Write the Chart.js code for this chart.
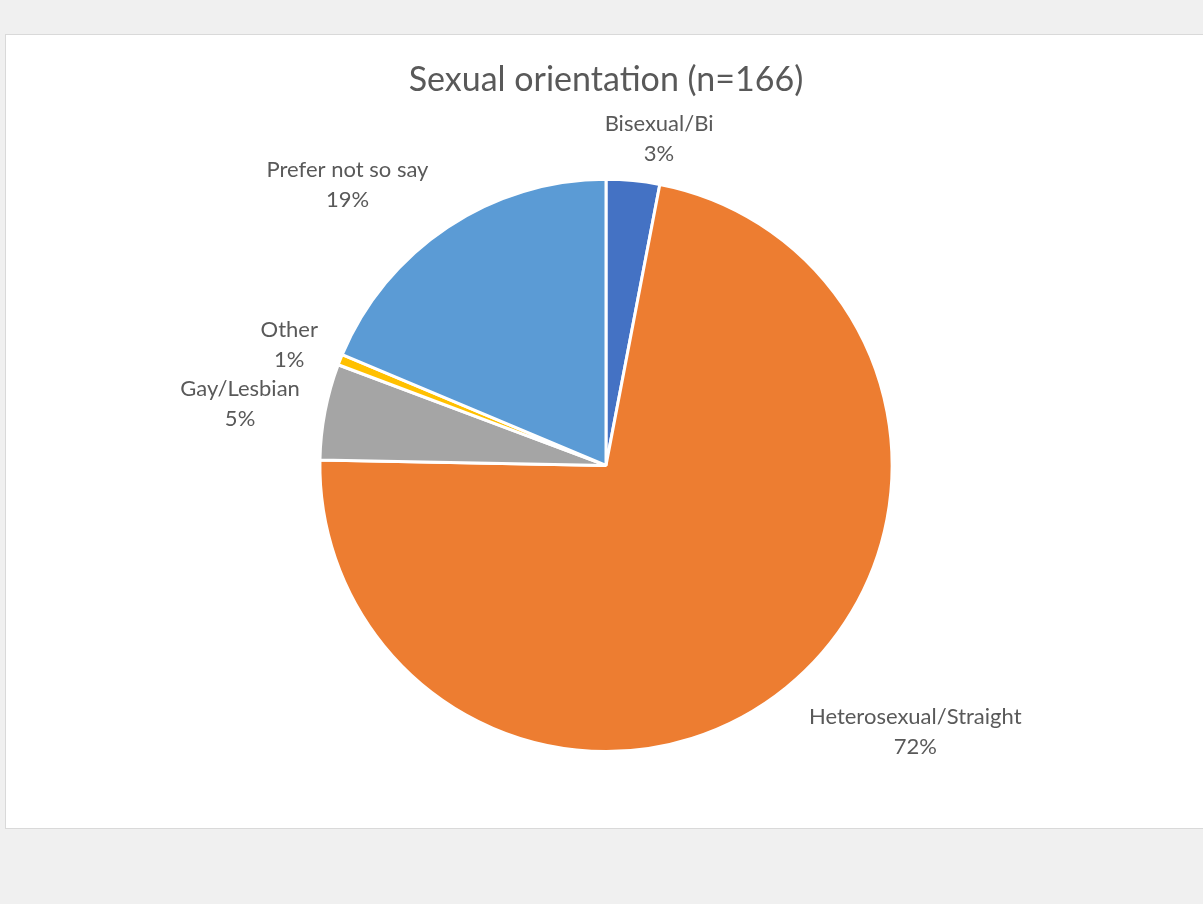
<!DOCTYPE html>
<html>
<head>
<meta charset="utf-8">
<script src="https://cdn.jsdelivr.net/npm/chart.js@4"></script>
<style>
  html, body { margin: 0; padding: 0; background: #f0f0f0; }
  body { width: 1203px; height: 904px; position: relative; overflow: hidden; }
  #frame { position: absolute; left: 5px; top: 34px; width: 1210px; height: 793px;
           background: #fff; border: 1px solid #d9d9d9; }
  #wrap { position: absolute; left: 0; top: 0; width: 1203px; height: 904px; }
</style>
</head>
<body>
<div id="frame"></div>
<div id="wrap"><canvas id="canvas"></canvas></div>
<script>
var categories = ['Bisexual/Bi', 'Heterosexual/Straight', 'Gay/Lesbian', 'Other', 'Prefer not so say'];
var counts = [5, 120, 9, 1, 31];
var sliceColors = ['#4472C4', '#ED7D31', '#A5A5A5', '#FFC000', '#5B9BD5'];

// where each label sits: multiple of the radius, and degrees off the slice middle
var labelSpots = [
  { r: 1.157, turn: 3.8 },
  { r: 1.427, turn: -10.2 },
  { r: 1.297, turn: -1.3 },
  { r: 1.185, turn: -0.8 },
  { r: 1.332, turn: -9.1 }
];

var total = counts.reduce(function (a, b) { return a + b; }, 0);

var sliceLabels = {
  id: 'sliceLabels',
  afterDatasetsDraw: function (chart) {
    var ctx = chart.ctx;
    var arcs = chart.getDatasetMeta(0).data;
    ctx.save();
    ctx.fillStyle = '#595959';
    ctx.font = '22px Lato';
    ctx.textAlign = 'center';
    ctx.textBaseline = 'middle';
    arcs.forEach(function (arc, i) {
      var p = arc.getProps(['x', 'y', 'startAngle', 'endAngle', 'outerRadius'], true);
      var spot = labelSpots[i];
      var a = (p.startAngle + p.endAngle) / 2 + spot.turn * Math.PI / 180;
      var x = p.x + Math.cos(a) * p.outerRadius * spot.r;
      var y = p.y + Math.sin(a) * p.outerRadius * spot.r;
      var pct = Math.round(counts[i] / total * 100) + '%';
      ctx.fillText(categories[i], x, y - 15);
      ctx.fillText(pct, x, y + 15);
    });
    ctx.restore();
  }
};

window.onload = function () {
  var ctx = document.getElementById('canvas').getContext('2d');
  new Chart(ctx, {
    type: 'pie',
    data: {
      labels: categories,
      datasets: [{
        data: counts,
        backgroundColor: sliceColors,
        borderColor: '#ffffff',
        borderWidth: 3
      }]
    },
    options: {
      responsive: true,
      maintainAspectRatio: false,
      animation: false,
      layout: { padding: { left: 9, right: 0, top: 0, bottom: 151 } },
      plugins: {
        legend: { display: false },
        tooltip: { enabled: false },
        title: {
          display: true,
          text: 'Sexual orientation (n=166)',
          color: '#595959',
          font: { family: 'Lato', size: 34, weight: 'normal' },
          padding: { top: 60, bottom: 77 }
        }
      }
    },
    plugins: [sliceLabels]
  });
};
</script>
</body>
</html>
